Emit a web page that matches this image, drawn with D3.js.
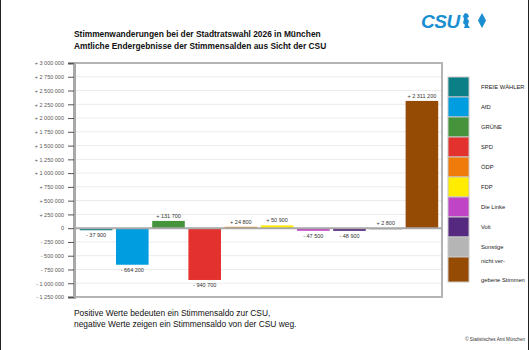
<!DOCTYPE html>
<html>
<head>
<meta charset="utf-8">
<script src="https://cdn.jsdelivr.net/npm/d3@7"></script>
<style>
  body { margin: 0; background: #fff; }
  svg { display: block; font-family: "Liberation Sans", Arial, sans-serif; }
  .tick-label { font-size: 5.5px; fill: #555; }
  .bar-label { font-size: 5.5px; fill: #333; }
  .legend-text { font-size: 5.8px; fill: #222; }
</style>
</head>
<body>
<script>
var width = 530, height = 350;

// data
var parties = ["FREIE WÄHLER", "AfD", "GRÜNE", "SPD", "ÖDP", "FDP", "Die Linke", "Volt", "Sonstige", "nicht vergebene Stimmen"];
var values = [-37900, -664200, 131700, -940700, 24800, 50900, -47500, -48900, 2800, 2311200];
var colors = ["#0b7f86", "#009ee0", "#45943c", "#e3322d", "#ef7b0a", "#ffec00", "#bf45c6", "#55297f", "#b5b5b5", "#964b05"];
var legendLines = [["FREIE WÄHLER"], ["AfD"], ["GRÜNE"], ["SPD"], ["ÖDP"], ["FDP"], ["Die Linke"], ["Volt"], ["Sonstige"], ["nicht ver-", "gebene Stimmen"]];
var yTicks = d3.range(-1250000, 3000001, 250000);

var plot = {left: 74, right: 442, top: 63, bottom: 297};

var svg = d3.select("body").append("svg")
    .attr("width", width)
    .attr("height", height);

// outer border lines
svg.append("line").attr("x1", 0.5).attr("x2", 0.5).attr("y1", 0).attr("y2", height)
    .attr("stroke", "#222").attr("stroke-width", 1);
svg.append("line").attr("x1", 528.5).attr("x2", 528.5).attr("y1", 0).attr("y2", height)
    .attr("stroke", "#222").attr("stroke-width", 1);

var yScale = d3.scaleLinear()
    .domain([-1250000, 3000000])
    .range([plot.bottom, plot.top]);

var xScale = d3.scaleBand()
    .domain(parties)
    .range([78, 440])
    .paddingInner(0.1)
    .paddingOuter(0.05);

function fmt(v) {
    if (v === 0) return "0";
    var s = d3.format(",")(Math.abs(v)).replace(/,/g, " ");
    return (v > 0 ? "+ " : "- ") + s;
}

// gridlines
svg.selectAll(".grid")
    .data(yTicks)
    .enter()
    .append("line")
    .attr("class", "grid")
    .attr("x1", plot.left)
    .attr("x2", plot.right)
    .attr("y1", function(d) { return yScale(d); })
    .attr("y2", function(d) { return yScale(d); })
    .attr("stroke", "#ebebeb")
    .attr("stroke-width", 1);

// frame
svg.append("rect")
    .attr("x", plot.left)
    .attr("y", plot.top)
    .attr("width", plot.right - plot.left)
    .attr("height", plot.bottom - plot.top)
    .attr("fill", "none")
    .attr("stroke", "#b4b4b4")
    .attr("stroke-width", 2);

// y axis
var yAxis = d3.axisLeft(yScale)
    .tickValues(yTicks)
    .tickSize(6)
    .tickPadding(4)
    .tickFormat(fmt);

var gy = svg.append("g")
    .attr("transform", "translate(" + plot.left + ",0)")
    .call(yAxis);
gy.select(".domain").attr("stroke", "#a8a8a8").attr("stroke-width", 3);
gy.selectAll(".tick line").attr("stroke", "#555").attr("stroke-width", 1);
gy.selectAll(".tick text").attr("class", "tick-label").attr("font-family", null).attr("font-size", null);

// bars
svg.selectAll(".bar")
    .data(values)
    .enter()
    .append("rect")
    .attr("class", "bar")
    .attr("x", function(d, i) { return xScale(parties[i]); })
    .attr("width", xScale.bandwidth())
    .attr("y", function(d) { return yScale(Math.max(d, 0)); })
    .attr("height", function(d) { return Math.max(1.5, Math.abs(yScale(d) - yScale(0))); })
    .attr("fill", function(d, i) { return colors[i]; });

// zero line
svg.append("line")
    .attr("x1", plot.left)
    .attr("x2", plot.right)
    .attr("y1", yScale(0))
    .attr("y2", yScale(0))
    .attr("stroke", "#a8a8a8")
    .attr("stroke-width", 2);

// bar labels
svg.selectAll(".bar-label")
    .data(values)
    .enter()
    .append("text")
    .attr("class", "bar-label")
    .attr("text-anchor", "middle")
    .attr("x", function(d, i) { return xScale(parties[i]) + xScale.bandwidth() / 2; })
    .attr("y", function(d) { return d >= 0 ? yScale(d) - 3 : Math.max(yScale(d), yScale(0) + 2) + 7; })
    .text(function(d) { return fmt(d); });

// legend
var legendY = [77, 97, 117, 137, 157, 177, 197, 217, 237, 257];
var legendH = [20, 20, 20, 20, 20, 20, 20, 20, 20, 25];

svg.selectAll(".legend-rect")
    .data(colors)
    .enter()
    .append("rect")
    .attr("class", "legend-rect")
    .attr("x", 448)
    .attr("y", function(d, i) { return legendY[i]; })
    .attr("width", 21)
    .attr("height", function(d, i) { return legendH[i]; })
    .attr("fill", function(d) { return d; })
    .attr("stroke", "#c8c8c8")
    .attr("stroke-width", 1);

var lg = svg.selectAll(".legend-text")
    .data(legendLines)
    .enter()
    .append("text")
    .attr("class", "legend-text")
    .attr("x", 481)
    .attr("y", function(d, i) { return d.length > 1 ? legendY[i] + 6 : legendY[i] + 12; });
lg.selectAll("tspan")
    .data(function(d) { return d; })
    .enter()
    .append("tspan")
    .attr("x", 481)
    .attr("dy", function(d, j) { return j === 0 ? 0 : 19; })
    .text(function(d) { return d; });

// titles
svg.append("text")
    .attr("x", 74)
    .attr("y", 37)
    .attr("font-size", "8.4px")
    .attr("font-weight", "bold")
    .attr("fill", "#111")
    .text("Stimmenwanderungen bei der Stadtratswahl 2026 in München");
svg.append("text")
    .attr("x", 74)
    .attr("y", 49)
    .attr("font-size", "8.4px")
    .attr("font-weight", "bold")
    .attr("fill", "#111")
    .text("Amtliche Endergebnisse der Stimmensalden aus Sicht der CSU");

// CSU logo
var logo = svg.append("g").attr("fill", "#1a8ed1");
logo.append("text")
    .attr("x", 421)
    .attr("y", 28)
    .attr("font-size", "19px")
    .attr("font-weight", "bold")
    .attr("font-style", "italic")
    .attr("letter-spacing", "-0.5px")
    .text("CSU");
logo.append("path")
    .attr("d", "M465,13 l3,1 l1,3 l-2,1 l2,3 l-1,4 l2,3 l-6,0 l1,-3 l-2,-2 l1,-4 l-1,-3 z");
logo.append("path")
    .attr("d", "M482,13 l4,7.5 l-4,7.5 l-4,-7.5 z");

// footnote
svg.append("text")
    .attr("x", 74)
    .attr("y", 316)
    .attr("font-size", "8.4px")
    .attr("fill", "#111")
    .text("Positive Werte bedeuten ein Stimmensaldo zur CSU,");
svg.append("text")
    .attr("x", 74)
    .attr("y", 327)
    .attr("font-size", "8.4px")
    .attr("fill", "#111")
    .text("negative Werte zeigen ein Stimmensaldo von der CSU weg.");
svg.append("text")
    .attr("x", 525)
    .attr("y", 341)
    .attr("text-anchor", "end")
    .attr("font-size", "4.6px")
    .attr("fill", "#333")
    .text("© Statistisches Amt München");
</script>
</body>
</html>
